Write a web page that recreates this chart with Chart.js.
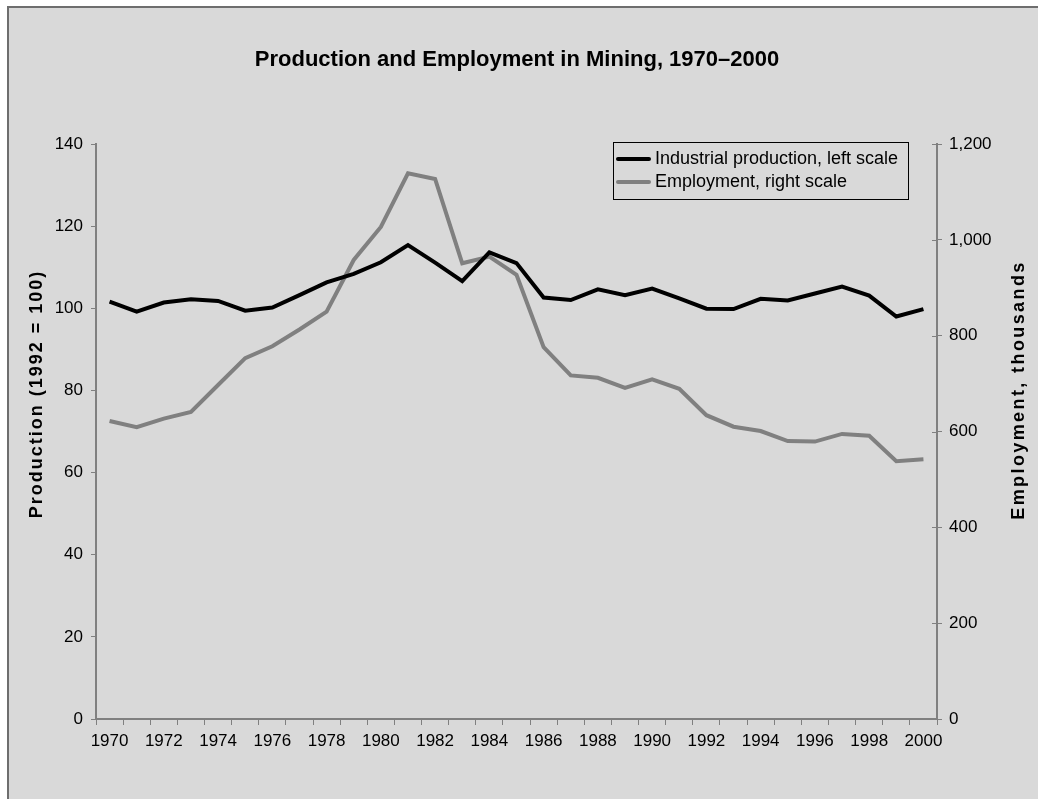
<!DOCTYPE html>
<html>
<head>
<meta charset="utf-8">
<script src="https://cdn.jsdelivr.net/npm/chart.js@4.4.1/dist/chart.umd.min.js"></script>
<style>
  html, body { margin: 0; padding: 0; background: #ffffff; }
  #wrap { width: 1038px; height: 799px; }
</style>
</head>
<body>
<div id="wrap"><canvas id="mining-chart" width="1038" height="799"></canvas></div>
<script>
const years = ["1970","1971","1972","1973","1974","1975","1976","1977","1978","1979",
  "1980","1981","1982","1983","1984","1985","1986","1987","1988","1989",
  "1990","1991","1992","1993","1994","1995","1996","1997","1998","1999","2000"];

// industrial production index, 1992 = 100 (left scale)
const production = [101.6, 99.2, 101.4, 102.2, 101.8, 99.4, 100.2, 103.2, 106.3, 108.4,
  111.2, 115.4, 111.1, 106.6, 113.6, 111.0, 102.6, 102.0, 104.6, 103.2,
  104.8, 102.4, 99.9, 99.8, 102.3, 101.9, 103.6, 105.3, 103.1, 98.0, 99.8];

// employment, thousands (right scale)
const employment = [622, 609, 627, 641, 697, 753, 778, 813, 850, 958,
  1027, 1139, 1127, 951, 965, 927, 776, 717, 712, 691,
  709, 689, 634, 610, 601, 580, 579, 595, 591, 538, 542];

const leftTicks = [0, 20, 40, 60, 80, 100, 120, 140];
const rightTicks = [0, 200, 400, 600, 800, 1000, 1200];

const chartTitle = "Production and Employment in Mining, 1970\u20132000";
const leftTitle = "Production (1992 = 100)";
const rightTitle = "Employment, thousands";

const sans = "'Liberation Sans', Arial, sans-serif";
const axisGrey = "#808080";

// grey panel with the thin border on top and left
const panelPlugin = {
  id: "panel",
  beforeDraw(chart) {
    const ctx = chart.ctx;
    ctx.save();
    ctx.fillStyle = "#ffffff";
    ctx.fillRect(0, 0, chart.width, chart.height);
    ctx.fillStyle = "#d9d9d9";
    ctx.fillRect(8, 7, chart.width - 8, chart.height - 7);
    ctx.strokeStyle = "#6e6e6e";
    ctx.lineWidth = 2;
    ctx.beginPath();
    ctx.moveTo(8, chart.height);
    ctx.lineTo(8, 7);
    ctx.lineTo(chart.width, 7);
    ctx.stroke();
    ctx.restore();
  }
};

// title, rotated axis titles and boxed legend
const textPlugin = {
  id: "texts",
  afterDraw(chart) {
    const ctx = chart.ctx;
    ctx.save();
    ctx.fillStyle = "#000000";
    ctx.textAlign = "center";
    ctx.textBaseline = "middle";
    ctx.font = "bold 22px " + sans;
    ctx.fillText(chartTitle, 517, 60);

    ctx.font = "bold 18px " + sans;
    if ("letterSpacing" in ctx) ctx.letterSpacing = "2px";
    ctx.save();
    ctx.translate(37, 394);
    ctx.rotate(-Math.PI / 2);
    ctx.fillText(leftTitle, 0, 0);
    ctx.restore();
    if ("letterSpacing" in ctx) ctx.letterSpacing = "2.4px";
    ctx.save();
    ctx.translate(1019, 390);
    ctx.rotate(-Math.PI / 2);
    ctx.fillText(rightTitle, 0, 0);
    ctx.restore();
    if ("letterSpacing" in ctx) ctx.letterSpacing = "0px";

    // right axis ticks also reach into the plot
    const y2 = chart.scales.y2;
    ctx.strokeStyle = axisGrey;
    ctx.lineWidth = 1;
    rightTicks.forEach(v => {
      const py = Math.round(y2.getPixelForValue(v)) + 0.5;
      ctx.beginPath();
      ctx.moveTo(y2.left - 5, py);
      ctx.lineTo(y2.left, py);
      ctx.stroke();
    });

    // legend
    const bx = 613, by = 142, bw = 295, bh = 57;
    ctx.fillStyle = "#d9d9d9";
    ctx.fillRect(bx, by, bw, bh);
    ctx.strokeStyle = "#000000";
    ctx.lineWidth = 1;
    ctx.strokeRect(bx + 0.5, by + 0.5, bw, bh);
    ctx.font = "18px " + sans;
    ctx.textAlign = "left";
    chart.data.datasets.forEach((ds, i) => {
      const y = by + 17 + i * 23;
      ctx.strokeStyle = ds.borderColor;
      ctx.lineWidth = 4;
      ctx.lineCap = "round";
      ctx.beginPath();
      ctx.moveTo(bx + 5, y);
      ctx.lineTo(bx + 36, y);
      ctx.stroke();
      ctx.fillStyle = "#000000";
      ctx.fillText(ds.label, bx + 42, y);
    });
    ctx.restore();
  }
};

new Chart("mining-chart", {
  type: "line",
  data: {
    labels: years,
    datasets: [{
      label: "Industrial production, left scale",
      data: production,
      yAxisID: "y",
      borderColor: "#000000",
      borderWidth: 4,
      pointRadius: 0,
      tension: 0
    }, {
      label: "Employment, right scale",
      data: employment,
      yAxisID: "y2",
      borderColor: "#808080",
      borderWidth: 4,
      pointRadius: 0,
      tension: 0
    }]
  },
  options: {
    responsive: false,
    animation: false,
    layout: {
      padding: { top: 144, left: 0, right: 0, bottom: 0 }
    },
    plugins: {
      legend: { display: false },
      title: { display: false },
      tooltip: { enabled: false }
    },
    scales: {
      x: {
        offset: true,
        grid: {
          offset: true,
          drawOnChartArea: false,
          color: axisGrey,
          tickLength: 6
        },
        border: { color: axisGrey, width: 2 },
        ticks: {
          autoSkip: false,
          maxRotation: 0,
          color: "#000000",
          padding: 6,
          font: { family: sans, size: 17 },
          callback: function(value, index) {
            return index % 2 === 0 ? years[index] : "";
          }
        },
        afterFit: (scale) => { scale.height = 80; }
      },
      y: {
        position: "left",
        min: leftTicks[0],
        max: leftTicks[leftTicks.length - 1],
        grid: {
          drawOnChartArea: false,
          color: axisGrey,
          tickLength: 5
        },
        border: { color: axisGrey, width: 2 },
        afterBuildTicks: (scale) => { scale.ticks = leftTicks.map(v => ({ value: v })); },
        ticks: {
          color: "#000000",
          padding: 8,
          font: { family: sans, size: 17 }
        },
        afterFit: (scale) => { scale.width = 96; }
      },
      y2: {
        position: "right",
        min: rightTicks[0],
        max: rightTicks[rightTicks.length - 1],
        grid: {
          drawOnChartArea: false,
          color: axisGrey,
          tickLength: 5
        },
        border: { color: axisGrey, width: 2 },
        afterBuildTicks: (scale) => { scale.ticks = rightTicks.map(v => ({ value: v })); },
        ticks: {
          color: "#000000",
          padding: 7,
          font: { family: sans, size: 17 },
          callback: (value) => value.toLocaleString("en-US")
        },
        afterFit: (scale) => { scale.width = 101; }
      }
    }
  },
  plugins: [panelPlugin, textPlugin]
});
</script>
</body>
</html>
